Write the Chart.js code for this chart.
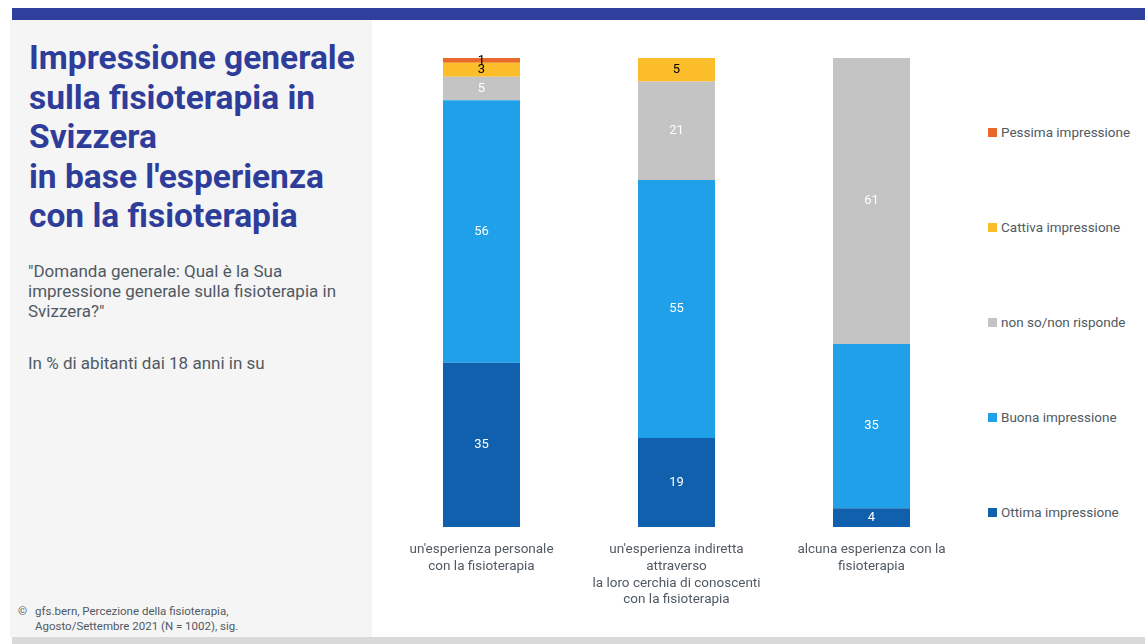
<!DOCTYPE html>
<html>
<head>
<meta charset="utf-8">
<script src="https://cdn.jsdelivr.net/npm/chart.js@4"></script>
<style>
  body { margin: 0; width: 1145px; height: 644px; background: #fff; font-family: Roboto, "Noto Sans", sans-serif; position: relative; overflow: hidden; }
  .topbar { position: absolute; left: 12px; top: 8px; width: 1133px; height: 12px; background: #2f3f9c; }
  .side { position: absolute; left: 10px; top: 20px; width: 362px; height: 617px; background: #f5f5f5; }
  .bottombar { position: absolute; left: 12px; top: 637px; width: 1133px; height: 7px; background: #d9d9d9; }
  h1 { position: absolute; left: 29px; top: 38px; margin: 0; font-size: 33.5px; line-height: 39.5px; font-weight: 700; color: #2e3d9a; white-space: nowrap; }
  .sub { position: absolute; left: 28px; top: 261px; font-size: 17px; line-height: 20px; color: #505a63; white-space: nowrap; }
  .base { position: absolute; left: 28px; top: 353px; font-size: 17px; color: #505a63; }
  .foot { position: absolute; left: 18px; top: 604px; font-size: 11.5px; line-height: 15px; color: #505a63; }
  .foot span { display: inline-block; width: 17px; }
  #wrap { position: absolute; left: 372px; top: 20px; width: 610px; height: 617px; }
  #legend { position: absolute; left: 988px; top: 0; }
  .item { position: absolute; white-space: nowrap; font-size: 13.5px; color: #505a63; }
  .item i { display: inline-block; width: 9px; height: 9px; margin-right: 4px; vertical-align: 0px; }
</style>
</head>
<body>
<div class="topbar"></div>
<div class="side"></div>
<div class="bottombar"></div>
<h1>Impressione generale<br>sulla fisioterapia in<br>Svizzera<br>in base l'esperienza<br>con la fisioterapia</h1>
<div class="sub">"Domanda generale: Qual è la Sua<br>impressione generale sulla fisioterapia in<br>Svizzera?"</div>
<div class="base">In % di abitanti dai 18 anni in su</div>
<div class="foot"><span>©</span>gfs.bern, Percezione della fisioterapia,<br><span></span>Agosto/Settembre 2021 (N = 1002), sig.</div>
<div id="wrap"><canvas id="chart"></canvas></div>
<div id="legend"></div>
<script>
const groups = [
  ["un'esperienza personale", "con la fisioterapia"],
  ["un'esperienza indiretta", "attraverso", "la loro cerchia di conoscenti", "con la fisioterapia"],
  ["alcuna esperienza con la", "fisioterapia"]
];

const seriesNames = ["Ottima impressione", "Buona impressione", "non so/non risponde", "Cattiva impressione", "Pessima impressione"];
const ottima = [35, 19, 4];
const buona = [56, 55, 35];
const nonSo = [5, 21, 61];
const cattiva = [3, 5, 0];
const pessima = [1, 0, 0];

const colors = ["#1060ad", "#20a0e8", "#c4c4c4", "#fbbd2a", "#e8692a"];
const labelColors = ["#fff", "#fff", "#fff", "#000", "#000"];

const values = [ottima, buona, nonSo, cattiva, pessima];

// segment values written in the middle of each stacked piece
const segmentLabels = {
  id: 'segmentLabels',
  afterDatasetsDraw(chart) {
    const ctx = chart.ctx;
    ctx.save();
    ctx.font = '13px Roboto, "Noto Sans", sans-serif';
    ctx.textAlign = 'center';
    ctx.textBaseline = 'middle';
    chart.data.datasets.forEach((ds, i) => {
      chart.getDatasetMeta(i).data.forEach((bar, j) => {
        const v = ds.data[j];
        if (!v) return;
        ctx.fillStyle = labelColors[i];
        ctx.fillText(v, bar.x, (bar.y + bar.base) / 2);
      });
    });
    ctx.restore();
  }
};

new Chart(document.getElementById('chart'), {
  type: 'bar',
  data: {
    labels: groups,
    datasets: values.map((d, i) => ({
      label: seriesNames[i],
      data: d,
      backgroundColor: colors[i],
      borderWidth: 0,
      barPercentage: 1,
      categoryPercentage: 0.395
    }))
  },
  options: {
    responsive: true,
    maintainAspectRatio: false,
    animation: false,
    layout: { padding: { top: 38, left: 12, right: 13, bottom: 0 } },
    plugins: { legend: { display: false }, tooltip: { enabled: false } },
    scales: {
      x: {
        stacked: true,
        grid: { display: false },
        border: { display: false },
        ticks: {
          color: '#505a63',
          padding: 6,
          maxRotation: 0,
          autoSkip: false,
          font: { family: 'Roboto, "Noto Sans", sans-serif', size: 13.5, lineHeight: 1.25 }
        },
        afterFit(scale) { scale.height = 110; }
      },
      y: {
        stacked: true,
        display: false,
        min: 0,
        max: 100
      }
    }
  },
  plugins: [segmentLabels]
});

// legend, listed top to bottom from worst to best
const legend = document.getElementById('legend');
const legendTops = [124, 219, 314, 409, 504];
for (let k = 0; k < seriesNames.length; k++) {
  const i = seriesNames.length - 1 - k;
  const el = document.createElement('div');
  el.className = 'item';
  el.style.top = legendTops[k] + 'px';
  el.innerHTML = '<i style="background:' + colors[i] + '"></i>' + seriesNames[i];
  legend.appendChild(el);
}
</script>
</body>
</html>
